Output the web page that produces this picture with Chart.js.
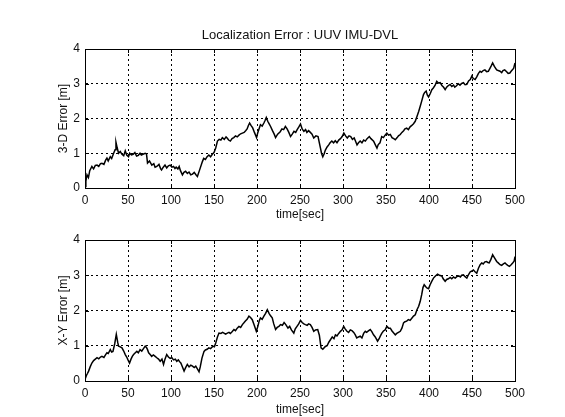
<!DOCTYPE html>
<html>
<head>
<meta charset="utf-8">
<script src="https://cdn.jsdelivr.net/npm/chart.js@4.4.1/dist/chart.umd.min.js"></script>
<style>
  html, body { margin: 0; padding: 0; background: #fff; }
  #wrap { position: relative; width: 565px; height: 417px; }
  .panel { position: absolute; left: 0; }
</style>
</head>
<body>
<div id="wrap">
  <div class="panel" style="top:0"><canvas id="errChart3d" width="565" height="225"></canvas></div>
  <div class="panel" style="top:225px"><canvas id="errChartXY" width="565" height="192"></canvas></div>
</div>
<script>
const chartTitle = 'Localization Error : UUV IMU-DVL';
const xTitle = 'time[sec]';
const yTitle3d = '3-D Error [m]';
const yTitleXY = 'X-Y Error [m]';
const xTicks = [0, 50, 100, 150, 200, 250, 300, 350, 400, 450, 500];
const yTicks = [0, 1, 2, 3, 4];

// 3-D error
const time3d = [0, 1, 2.3, 4, 5.5, 8, 10, 12, 14, 16, 18, 19.7, 22, 24, 25.5, 27, 29.4, 31, 33.3, 35, 36, 37.5, 39, 41, 43, 45, 46.8, 48.5, 50.6, 52, 54, 56, 58, 60, 62, 64, 65.5, 67.4, 70, 71.5, 72.7, 75, 77.7, 80, 81.5, 83.5, 86, 88, 89, 91, 93, 95, 97, 99, 101, 103, 104.6, 106, 108, 109.5, 111, 113.3, 115, 117, 119, 121, 123, 125, 127, 129, 130.7, 133, 136.5, 138, 140, 142, 144, 146, 148, 150, 152, 154, 156, 158, 159.7, 162, 164, 165.5, 167, 169, 171, 173, 175, 177, 179, 181, 183, 185, 186.8, 188.5, 190, 191.4, 193, 195, 197, 199.5, 201, 203, 204, 206, 208, 209.5, 210.8, 212.5, 214, 215.8, 218, 220, 221.6, 224, 227, 229, 231, 233, 235, 237, 239, 241, 243, 245, 246.7, 248.5, 250.6, 252.5, 254.5, 256.5, 258, 260, 262, 264, 266, 268.5, 271, 272.5, 273.8, 275, 276.5, 278, 279.5, 281.5, 283.4, 285, 287, 289, 291, 293, 295, 297, 299, 301, 303, 305, 307, 309, 311, 313, 314.5, 316.3, 318, 320, 322, 324, 326, 328, 330.6, 332.5, 335.6, 337.5, 339.5, 341, 343, 345, 347, 349, 351, 353, 355, 357, 359, 360.8, 363, 364.5, 366.6, 368.5, 370.5, 372, 374, 376, 378, 380, 382, 384, 386, 388, 389.8, 391.5, 393.6, 395, 396.7, 398, 399.5, 401.5, 403.3, 405, 407, 409, 411, 413, 415, 417, 418.8, 420.5, 422.5, 424.6, 426.5, 428.5, 430, 432, 434, 436, 438, 440, 442, 444, 446, 448, 449.8, 451.5, 453.6, 455.5, 457.5, 459.4, 461, 463, 465, 467, 469, 471, 472.5, 474, 476, 478.7, 480.5, 482.6, 484.5, 486, 488, 490, 492, 494, 495.5, 497, 498.5, 500];
const err3d = [0.04, 0.2, 0.38, 0.3, 0.5, 0.62, 0.55, 0.65, 0.66, 0.62, 0.7, 0.71, 0.68, 0.8, 0.86, 0.78, 0.9, 0.85, 1.0, 1.1, 1.32, 1.15, 1.0, 1.05, 0.97, 0.93, 1.07, 0.95, 0.9, 1.0, 0.95, 0.97, 1.02, 0.92, 0.94, 1.0, 0.95, 0.97, 1.0, 0.98, 0.72, 0.78, 0.66, 0.7, 0.6, 0.62, 0.68, 0.55, 0.52, 0.6, 0.66, 0.58, 0.64, 0.66, 0.6, 0.62, 0.56, 0.6, 0.55, 0.62, 0.5, 0.38, 0.45, 0.48, 0.42, 0.46, 0.38, 0.4, 0.45, 0.38, 0.33, 0.5, 0.76, 0.85, 0.82, 0.9, 0.95, 0.9, 0.97, 1.02, 1.15, 1.35, 1.4, 1.38, 1.45, 1.4, 1.47, 1.43, 1.38, 1.35, 1.42, 1.45, 1.5, 1.47, 1.52, 1.56, 1.58, 1.6, 1.65, 1.7, 1.8, 1.87, 1.8, 1.73, 1.6, 1.45, 1.6, 1.75, 1.82, 1.78, 1.87, 1.95, 2.03, 1.92, 1.85, 1.77, 1.65, 1.55, 1.45, 1.55, 1.62, 1.7, 1.68, 1.77, 1.7, 1.6, 1.48, 1.55, 1.63, 1.6, 1.68, 1.75, 1.84, 1.7, 1.63, 1.68, 1.6, 1.65, 1.6, 1.55, 1.44, 1.5, 1.48, 1.3, 1.15, 1.0, 0.9, 0.98, 1.09, 1.18, 1.24, 1.3, 1.35, 1.3, 1.36, 1.3, 1.38, 1.42, 1.48, 1.58, 1.5, 1.44, 1.5, 1.48, 1.4, 1.44, 1.35, 1.24, 1.3, 1.35, 1.3, 1.38, 1.35, 1.42, 1.48, 1.42, 1.35, 1.25, 1.15, 1.25, 1.3, 1.48, 1.45, 1.52, 1.58, 1.52, 1.54, 1.45, 1.42, 1.39, 1.45, 1.5, 1.54, 1.6, 1.65, 1.7, 1.72, 1.68, 1.76, 1.8, 1.85, 1.92, 2.06, 2.2, 2.35, 2.5, 2.69, 2.75, 2.79, 2.68, 2.62, 2.72, 2.83, 2.88, 2.95, 3.07, 3.02, 3.03, 2.95, 2.9, 2.83, 2.9, 2.95, 2.98, 2.92, 2.96, 2.9, 2.94, 3.0, 2.96, 3.01, 3.03, 2.97, 2.98, 3.08, 3.12, 3.22, 3.15, 3.12, 3.2, 3.3, 3.36, 3.33, 3.38, 3.4, 3.35, 3.36, 3.45, 3.52, 3.6, 3.5, 3.4, 3.38, 3.36, 3.32, 3.38, 3.4, 3.35, 3.3, 3.31, 3.36, 3.4, 3.45, 3.6];

// X-Y error
const timeXY = [0, 1.5, 3, 4.2, 6, 8, 10, 12, 14, 16, 18, 19.7, 22, 24, 25.5, 27, 29.4, 31, 32.5, 34.5, 36.4, 38, 39, 41, 43, 45, 46.8, 48.5, 50, 51.8, 53.5, 55, 56.5, 58.5, 60.3, 62, 64, 66, 68, 70, 71.5, 72.7, 74, 75.8, 77.5, 79.5, 81.6, 83.5, 85.5, 87.4, 89.5, 91.3, 93, 95, 97, 99, 101, 103, 105, 106.7, 108.5, 110, 111.4, 113, 115.2, 117, 119, 121, 123, 125, 127, 128.8, 130.5, 132.6, 134, 136, 138.4, 140, 142, 144, 146, 148.8, 150.5, 152, 154, 155.8, 158, 160, 161.6, 163.5, 165.5, 167.4, 169, 171, 173.2, 175, 177, 179, 181, 183, 184.8, 186.5, 188.5, 190.6, 192.5, 194.5, 196.5, 199.2, 201, 202.5, 204, 206, 208, 210, 212, 214, 215.8, 217.7, 219.5, 221.6, 223.5, 225.5, 227.4, 229.5, 231.5, 233.5, 236, 238, 240, 242.8, 244.5, 246.5, 248.5, 250.6, 252.5, 254.5, 256.3, 258.3, 260, 262, 264, 266, 268, 270.6, 272.5, 274.5, 276.5, 279.5, 281.5, 283.5, 285.4, 287.5, 289.5, 291.2, 293, 295, 297, 299, 300.8, 302.5, 304.6, 306.5, 308.5, 310.4, 312.5, 314.3, 316, 318, 320, 322, 324, 325.9, 327.5, 329.5, 331.7, 333.5, 335.5, 337.5, 340.2, 342, 343.5, 345.2, 347, 349, 351, 353, 355, 357, 359, 360.8, 362.5, 364.5, 366.6, 368.5, 370.4, 372, 374, 376, 378, 380, 382, 384, 386, 388, 389.8, 391.5, 393, 394.4, 396, 397.5, 399.5, 401.3, 403, 405.2, 407.5, 409.9, 412, 414.9, 416.5, 418.8, 420.5, 422.5, 424.6, 426.5, 428.5, 430.5, 432.3, 434.5, 436.5, 438, 440, 442, 444, 446, 448, 449.8, 451.6, 453.5, 455.5, 457.5, 459.5, 461.3, 463, 465, 467, 468.5, 470, 472, 474, 476, 478.7, 480.5, 482.6, 484.5, 486.5, 488.4, 490.5, 492, 493.5, 495.5, 497.3, 499, 500];
const errXY = [0.04, 0.15, 0.22, 0.28, 0.4, 0.51, 0.58, 0.62, 0.66, 0.63, 0.68, 0.7, 0.67, 0.75, 0.8, 0.78, 0.89, 0.82, 0.84, 1.05, 1.32, 1.1, 0.99, 0.97, 0.94, 0.85, 0.75, 0.68, 0.6, 0.51, 0.62, 0.7, 0.75, 0.8, 0.84, 0.8, 0.89, 0.85, 0.92, 0.99, 0.95, 0.89, 0.8, 0.75, 0.7, 0.74, 0.7, 0.66, 0.62, 0.56, 0.62, 0.47, 0.62, 0.75, 0.68, 0.64, 0.66, 0.6, 0.62, 0.56, 0.6, 0.55, 0.51, 0.42, 0.28, 0.38, 0.47, 0.4, 0.45, 0.42, 0.38, 0.42, 0.35, 0.26, 0.4, 0.65, 0.84, 0.88, 0.9, 0.94, 0.92, 0.99, 0.97, 1.08, 1.25, 1.36, 1.35, 1.38, 1.36, 1.33, 1.36, 1.38, 1.35, 1.4, 1.46, 1.43, 1.5, 1.55, 1.52, 1.6, 1.65, 1.7, 1.75, 1.84, 1.8, 1.74, 1.6, 1.41, 1.55, 1.7, 1.79, 1.75, 1.84, 1.92, 2.02, 1.92, 1.85, 1.79, 1.62, 1.46, 1.52, 1.55, 1.6, 1.58, 1.66, 1.6, 1.5, 1.55, 1.45, 1.36, 1.48, 1.55, 1.62, 1.72, 1.66, 1.62, 1.6, 1.58, 1.62, 1.6, 1.52, 1.41, 1.45, 1.46, 1.3, 0.94, 0.9, 0.98, 1.0, 1.1, 1.17, 1.25, 1.2, 1.31, 1.28, 1.35, 1.41, 1.45, 1.55, 1.48, 1.41, 1.38, 1.45, 1.43, 1.38, 1.31, 1.22, 1.25, 1.27, 1.22, 1.35, 1.41, 1.38, 1.42, 1.46, 1.4, 1.31, 1.25, 1.13, 1.2, 1.28, 1.36, 1.42, 1.45, 1.55, 1.5, 1.5, 1.42, 1.36, 1.31, 1.35, 1.38, 1.41, 1.5, 1.65, 1.68, 1.7, 1.74, 1.72, 1.78, 1.84, 1.88, 2.02, 2.12, 2.26, 2.45, 2.65, 2.73, 2.68, 2.64, 2.62, 2.73, 2.82, 2.92, 2.98, 3.03, 3.0, 2.98, 2.9, 2.83, 2.88, 2.9, 2.94, 2.9, 2.95, 2.92, 2.96, 2.98, 2.95, 3.0, 3.01, 2.96, 2.92, 3.02, 3.1, 3.12, 3.15, 3.1, 3.06, 3.2, 3.3, 3.35, 3.32, 3.38, 3.39, 3.36, 3.35, 3.45, 3.58, 3.5, 3.39, 3.35, 3.3, 3.28, 3.32, 3.35, 3.3, 3.27, 3.25, 3.3, 3.35, 3.4, 3.53];

Chart.defaults.font.family = '"Liberation Sans", Arial, sans-serif';
Chart.defaults.font.size = 12;
Chart.defaults.color = '#111';

// box around the plot, small inward tick marks, and the heading centred over the plot
const frameTicks = {
    id: 'frameTicks',
    afterDraw(chart, args, opts) {
        const { ctx, chartArea: a, scales } = chart;
        ctx.save();
        ctx.strokeStyle = '#000';
        ctx.lineWidth = 1;
        ctx.setLineDash([]);
        ctx.strokeRect(Math.round(a.left) + 0.5, Math.round(a.top) + 0.5, Math.round(a.right - a.left), Math.round(a.bottom - a.top));
        ctx.beginPath();
        xTicks.forEach(v => {
            const px = Math.round(scales.x.getPixelForValue(v)) + 0.5;
            ctx.moveTo(px, a.bottom); ctx.lineTo(px, a.bottom - 4);
            ctx.moveTo(px, a.top); ctx.lineTo(px, a.top + 4);
        });
        yTicks.forEach(v => {
            const py = Math.round(scales.y.getPixelForValue(v)) + 0.5;
            ctx.moveTo(a.left, py); ctx.lineTo(a.left + 4, py);
            ctx.moveTo(a.right, py); ctx.lineTo(a.right - 4, py);
        });
        ctx.stroke();
        if (opts && opts.heading) {
            ctx.fillStyle = '#111';
            ctx.font = '13px "Liberation Sans", Arial, sans-serif';
            ctx.textAlign = 'center';
            ctx.textBaseline = 'middle';
            ctx.fillText(opts.heading, (a.left + a.right) / 2, a.top - 14);
        }
        ctx.restore();
    }
};

function makeChart(canvasId, times, values, yLabel, opts) {
    // in Chart.js v4 border.dash is what dashes the grid lines
    const grid = { color: '#000', lineWidth: 1, drawTicks: false };
    const border = { display: true, color: '#000', dash: [2, 3] };
    return new Chart(document.getElementById(canvasId), {
        type: 'line',
        data: {
            datasets: [{
                data: times.map((t, i) => ({ x: t, y: values[i] })),
                borderColor: '#000',
                borderWidth: 1.5,
                pointRadius: 0,
                tension: 0,
                fill: false
            }]
        },
        options: {
            responsive: false,
            animation: false,
            devicePixelRatio: 1,
            layout: { padding: { left: 0, right: 50, top: opts.padTop, bottom: 0 } },
            plugins: {
                legend: { display: false },
                tooltip: { enabled: false },
                title: { display: false },
                frameTicks: { heading: opts.heading }
            },
            scales: {
                x: {
                    type: 'linear', min: 0, max: 500,
                    afterBuildTicks: s => { s.ticks = xTicks.map(v => ({ value: v })); },
                    afterFit: s => { s.height = opts.xHeight; },
                    ticks: { padding: 5, maxRotation: 0, autoSkip: false },
                    grid: grid,
                    border: border,
                    title: { display: true, text: xTitle, padding: { top: 0, bottom: opts.xTitleBottom } }
                },
                y: {
                    min: 0, max: 4,
                    afterBuildTicks: s => { s.ticks = yTicks.map(v => ({ value: v })); },
                    afterFit: s => { s.width = 85; },
                    ticks: { padding: 5 },
                    grid: grid,
                    border: border,
                    title: { display: true, text: yLabel, padding: { top: 56.8, bottom: 0 } }
                }
            }
        },
        plugins: [frameTicks]
    });
}

makeChart('errChart3d', time3d, err3d, yTitle3d, { heading: chartTitle, padTop: 49, xHeight: 37, xTitleBottom: 2.8 });
makeChart('errChartXY', timeXY, errXY, yTitleXY, { heading: null, padTop: 15, xHeight: 36, xTitleBottom: 0 });
</script>
</body>
</html>
